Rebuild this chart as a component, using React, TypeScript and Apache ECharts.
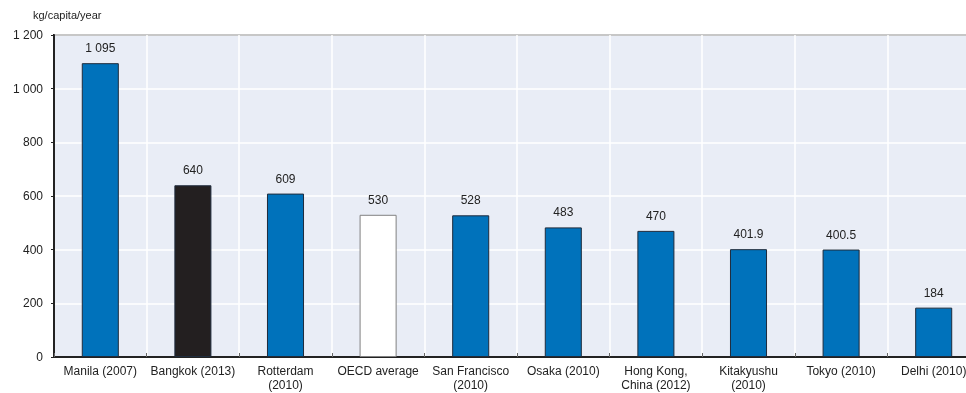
import React, { useEffect, useRef } from "react";
import * as echarts from "echarts";

const categories = [
  "Manila (2007)",
  "Bangkok (2013)",
  "Rotterdam\n(2010)",
  "OECD average",
  "San Francisco\n(2010)",
  "Osaka (2010)",
  "Hong Kong,\nChina (2012)",
  "Kitakyushu\n(2010)",
  "Tokyo (2010)",
  "Delhi (2010)",
];
const values = [1095, 640, 609, 530, 528, 483, 470, 401.9, 400.5, 184];
const yTicks = [0, 200, 400, 600, 800, 1000, 1200];
const unitLabel = "kg/capita/year";

const FONT = "'Liberation Sans Narrow', 'Arial Narrow', 'Liberation Sans', Arial, sans-serif";

function fmt(v: number): string {
  const parts = String(v).split(".");
  parts[0] = parts[0].replace(/\B(?=(\d{3})+(?!\d))/g, " ");
  return parts.join(".");
}

const W = 980;

export default function App() {
  const ref = useRef<HTMLDivElement>(null);
  useEffect(() => {
    document.body.style.margin = "0";
    document.body.style.overflow = "hidden";
    const chart = echarts.init(ref.current!, undefined, { renderer: "svg" });
    const barData = values.map((v, i) => {
      let color = "#0072BB";
      let border = "#1E2B3C";
      if (categories[i] === "Bangkok (2013)") color = "#231F20";
      if (categories[i] === "OECD average") {
        color = "#FFFFFF";
        border = "#808080";
      }
      return { value: v, itemStyle: { color, borderColor: border, borderWidth: 1 } };
    });
    chart.setOption({
      animation: false,
      textStyle: { fontFamily: FONT },
      grid: { left: 54, right: 0, top: 35, bottom: 36, containLabel: false, show: true, backgroundColor: "#E9EDF6", borderWidth: 0 },
      graphic: [
        { type: "text", left: 33, top: 9, style: { text: unitLabel, fontFamily: FONT, fontSize: 11, fill: "#222" } },
        { type: "line", shape: { x1: 53, y1: 35, x2: W, y2: 35 }, style: { stroke: "#222", lineWidth: 2 } },
      ],
      xAxis: {
        type: "category",
        data: categories,
        axisLine: { lineStyle: { color: "#222", width: 2 } },
        axisTick: { show: true, inside: true, length: 4, alignWithLabel: false, lineStyle: { color: "#666" } },
        splitLine: { show: true, interval: 0, lineStyle: { color: "#FFFFFF", width: 1.5 } },
        axisLabel: { interval: 0, color: "#222", fontSize: 12, margin: 7, lineHeight: 14, fontFamily: FONT },
      },
      yAxis: {
        type: "value",
        min: yTicks[0],
        max: yTicks[yTicks.length - 1],
        interval: 200,
        axisLine: { show: true, lineStyle: { color: "#222", width: 2 } },
        axisTick: { show: true, length: 3, lineStyle: { color: "#222" } },
        splitLine: { show: true, lineStyle: { color: "#FFFFFF", width: 1.5 } },
        axisLabel: { color: "#222", fontSize: 12, margin: 11, fontFamily: FONT, formatter: (v: number) => fmt(v) },
      },
      series: [
        {
          type: "bar",
          data: barData,
          barWidth: "40%",
          label: {
            show: true,
            position: "top",
            distance: 9,
            color: "#222",
            fontSize: 12,
            fontFamily: FONT,
            formatter: (p: any) => fmt(p.value),
          },
        },
      ],
    });
    return () => chart.dispose();
  }, []);
  return <div ref={ref} style={{ position: "fixed", left: 0, top: 0, width: W, height: 393 }} />;
}
